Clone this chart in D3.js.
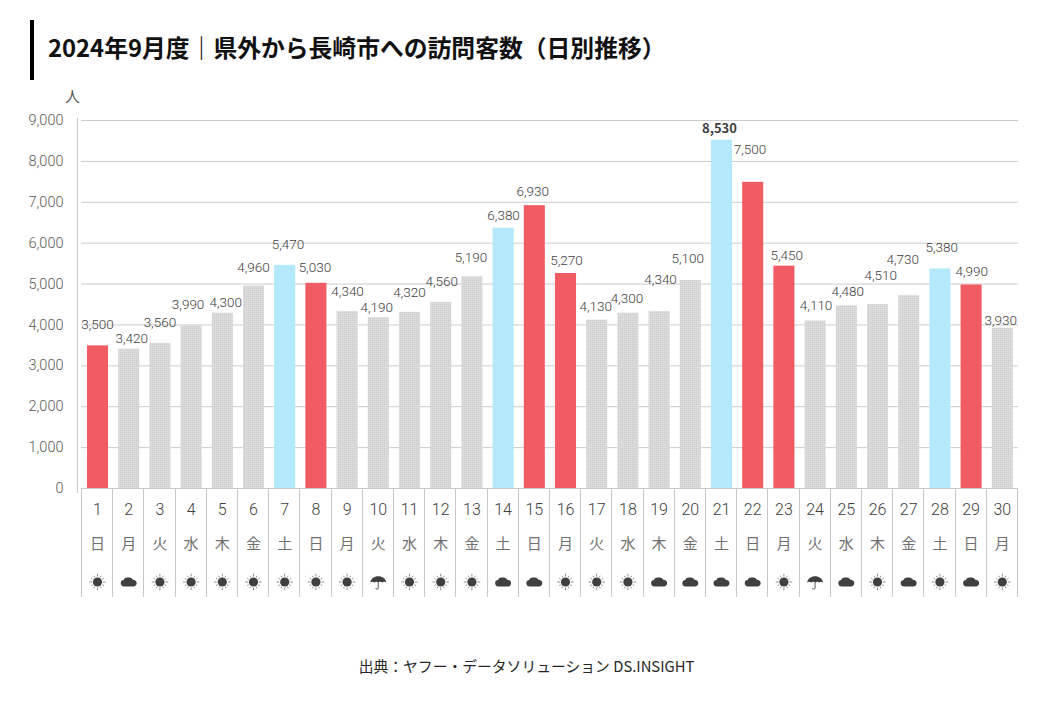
<!DOCTYPE html>
<html lang="ja">
<head>
<meta charset="utf-8">
<script src="https://cdn.jsdelivr.net/npm/d3@7"></script>
<style>
html, body { margin: 0; padding: 0; background: #fff; }
svg { display: block; font-family: "Noto Sans CJK JP", sans-serif; }
.light { font-family: Roboto, "Noto Sans CJK JP", sans-serif; font-weight: 300; }
</style>
</head>
<body>
<svg id="chart" width="1040" height="720"></svg>
<script>
const days = d3.range(1, 31);
const weekdays = ["日","月","火","水","木","金","土","日","月","火","水","木","金","土","日","月","火","水","木","金","土","日","月","火","水","木","金","土","日","月"];
const weather = ["sun","cloud","sun","sun","sun","sun","sun","sun","sun","rain","sun","sun","sun","cloud","cloud","sun","sun","sun","cloud","cloud","cloud","cloud","sun","rain","cloud","sun","cloud","sun","cloud","sun"];
const visitors = [3500,3420,3560,3990,4300,4960,5470,5030,4340,4190,4320,4560,5190,6380,6930,5270,4130,4300,4340,5100,8530,7500,5450,4110,4480,4510,4730,5380,4990,3930];
const yTicks = [0,1000,2000,3000,4000,5000,6000,7000,8000,9000];

// labels were moved by hand in the original, so each one has its own nudge
const labelDx = [0,3,0,-3,3.4,0,3.3,-1,0.5,-1.6,0,1,-1,0.5,-1.6,1,-1,-1,1.5,-2.6,-2,-2.7,2.8,1,1.4,3.2,-6,1.8,0.6,-1.6];
const labelDy = [21,10.4,20.6,21.4,10.7,18.4,20.8,15.5,19.7,9.9,19.6,20.7,19,12.6,14.1,12.7,12.9,14.7,32,22,11.4,32.5,10.7,15.4,14.3,28.4,36.1,20.8,13.5,7.8];

const svg = d3.select("#chart");
const plotLeft = 81, plotRight = 1018;

const x = d3.scaleBand().domain(days).range([81.9, 1017.9]).paddingInner(0.325).paddingOuter(0.1625);
const y = d3.scaleLinear().domain([0, 9000]).range([488.5, 120.5]);
const step = x.step();

const defs = svg.append("defs");
const dots = defs.append("pattern").attr("id", "dots").attr("width", 2).attr("height", 2)
	.attr("patternUnits", "userSpaceOnUse");
dots.append("rect").attr("width", 2).attr("height", 2).attr("fill", "#dcdcdc");
dots.append("rect").attr("width", 1).attr("height", 1).attr("fill", "#cbcbcb");

// title
svg.append("rect").attr("x", 30).attr("y", 20).attr("width", 4).attr("height", 60).attr("fill", "#000");
svg.append("text").attr("x", 48).attr("y", 57).attr("font-size", 23.8).attr("font-weight", 700).attr("fill", "#111")
	.text("2024年9月度｜県外から長崎市への訪問客数（日別推移）");
svg.append("text").attr("x", 65).attr("y", 102).attr("font-size", 15).attr("fill", "#595959").text("人");

// grid
svg.append("g").attr("transform", `translate(${plotLeft},0)`)
	.call(d3.axisLeft(y).offset(0).tickValues(yTicks.slice(1)).tickSize(-(plotRight - plotLeft)).tickFormat(""))
	.call(g => g.select(".domain").remove())
	.call(g => g.selectAll("line").attr("stroke", "#cccccc"));

// y axis
svg.append("g").attr("transform", "translate(77.5,0)")
	.call(d3.axisLeft(y).offset(0).tickValues(yTicks).tickSize(0).tickPadding(14).tickFormat(d3.format(",")))
	.call(g => g.select(".domain").attr("stroke", "#c8c8c8").attr("d", `M0,118V493`))
	.call(g => g.selectAll("text").attr("class", "light").attr("font-size", 14.5).attr("fill", "#595959"));

// bars
function barColor(d, i) {
	if (weekdays[i] === "土") return "#b3e9fa";
	if (weekdays[i] === "日" || d === 16 || d === 23) return "#f15b63";
	return "url(#dots)";
}
svg.append("g").selectAll("rect").data(days).join("rect")
	.attr("x", d => x(d))
	.attr("width", x.bandwidth())
	.attr("y", (d, i) => y(visitors[i]))
	.attr("height", (d, i) => y(0) - y(visitors[i]))
	.attr("fill", barColor);

// value labels
const peak = d3.max(visitors);
svg.append("g").selectAll("text").data(days).join("text")
	.attr("class", (d, i) => visitors[i] === peak ? null : "light")
	.attr("x", (d, i) => x(d) + x.bandwidth() / 2 + labelDx[i])
	.attr("y", (d, i) => y(visitors[i]) - labelDy[i])
	.attr("dy", "0.35em")
	.attr("text-anchor", "middle")
	.attr("font-size", (d, i) => visitors[i] === peak ? 13 : 13.5)
	.attr("font-weight", (d, i) => visitors[i] === peak ? 700 : null)
	.attr("fill", "#404040")
	.text((d, i) => d3.format(",")(visitors[i]));

// table under the bars
const table = svg.append("g");
table.append("line").attr("x1", plotLeft).attr("x2", plotRight).attr("y1", y(0)).attr("y2", y(0)).attr("stroke", "#c8c8c8");
table.selectAll("line.cell").data(d3.range(31)).join("line").attr("class", "cell")
	.attr("x1", i => Math.round(plotLeft + i * step) + 0.5)
	.attr("x2", i => Math.round(plotLeft + i * step) + 0.5)
	.attr("y1", y(0)).attr("y2", 597).attr("stroke", "#c8c8c8");

const center = d => x(d) + x.bandwidth() / 2;
table.selectAll("text.day").data(days).join("text").attr("class", "day light")
	.attr("x", center).attr("y", 509).attr("dy", "0.35em").attr("text-anchor", "middle")
	.attr("font-size", 16).attr("fill", "#404040").text(d => d);
table.selectAll("text.week").data(days).join("text").attr("class", "week")
	.attr("x", center).attr("y", 544).attr("dy", "0.35em").attr("text-anchor", "middle")
	.attr("font-size", 15).attr("fill", "#707070").text((d, i) => weekdays[i]);

// weather icons, drawn around the centre of each cell
const ink = "#404040";
function drawSun(g) {
	g.append("circle").attr("r", 4.6).attr("fill", ink);
	g.selectAll("line").data(d3.range(12)).join("line")
		.attr("x1", i => 5.5 * Math.cos(i * Math.PI / 6))
		.attr("y1", i => 5.5 * Math.sin(i * Math.PI / 6))
		.attr("x2", i => (i % 3 === 0 ? 8.2 : 7.2) * Math.cos(i * Math.PI / 6))
		.attr("y2", i => (i % 3 === 0 ? 8.2 : 7.2) * Math.sin(i * Math.PI / 6))
		.attr("stroke", "#707070").attr("stroke-width", 0.8);
}
function drawCloud(g) {
	g.append("path").attr("fill", ink)
		.attr("d", "M-4.5,4.6 C-7,4.6 -8,2.8 -8,1 C-8,-1 -6.5,-2 -5,-2 C-4.5,-4 -2.5,-4.8 -0.5,-4.4 C1.5,-5 3.5,-4 4.2,-2.2 C6.4,-2.2 8,-0.8 8,1 C8,3 6.5,4.6 4.5,4.6 Z");
}
function drawRain(g) {
	g.append("path").attr("fill", ink)
		.attr("d", "M-8,0.6 C-7.5,-3.5 -4,-5.8 0,-5.8 C4,-5.8 7.5,-3.5 8,0.6 C6.5,-0.6 5,-0.6 4,0.6 C3,-0.6 1,-0.6 0,0.6 C-1,-0.6 -3,-0.6 -4,0.6 C-5,-0.6 -6.5,-0.6 -8,0.6 Z");
	g.append("path").attr("fill", "none").attr("stroke", "#606060").attr("stroke-width", 1)
		.attr("d", "M0,0 V6 C0,7.6 -2.6,7.6 -2.6,6");
}
const painters = {sun: drawSun, cloud: drawCloud, rain: drawRain};
table.selectAll("g.sky").data(days).join("g").attr("class", "sky")
	.attr("transform", d => `translate(${center(d)},582)`)
	.each(function(d, i) { painters[weather[i]](d3.select(this)); });

// source
svg.append("text").attr("x", 526.5).attr("y", 667).attr("dy", "0.35em").attr("text-anchor", "middle")
	.attr("font-size", 14.8).attr("fill", "#262626").text("出典：ヤフー・データソリューション DS.INSIGHT");
</script>
</body>
</html>
